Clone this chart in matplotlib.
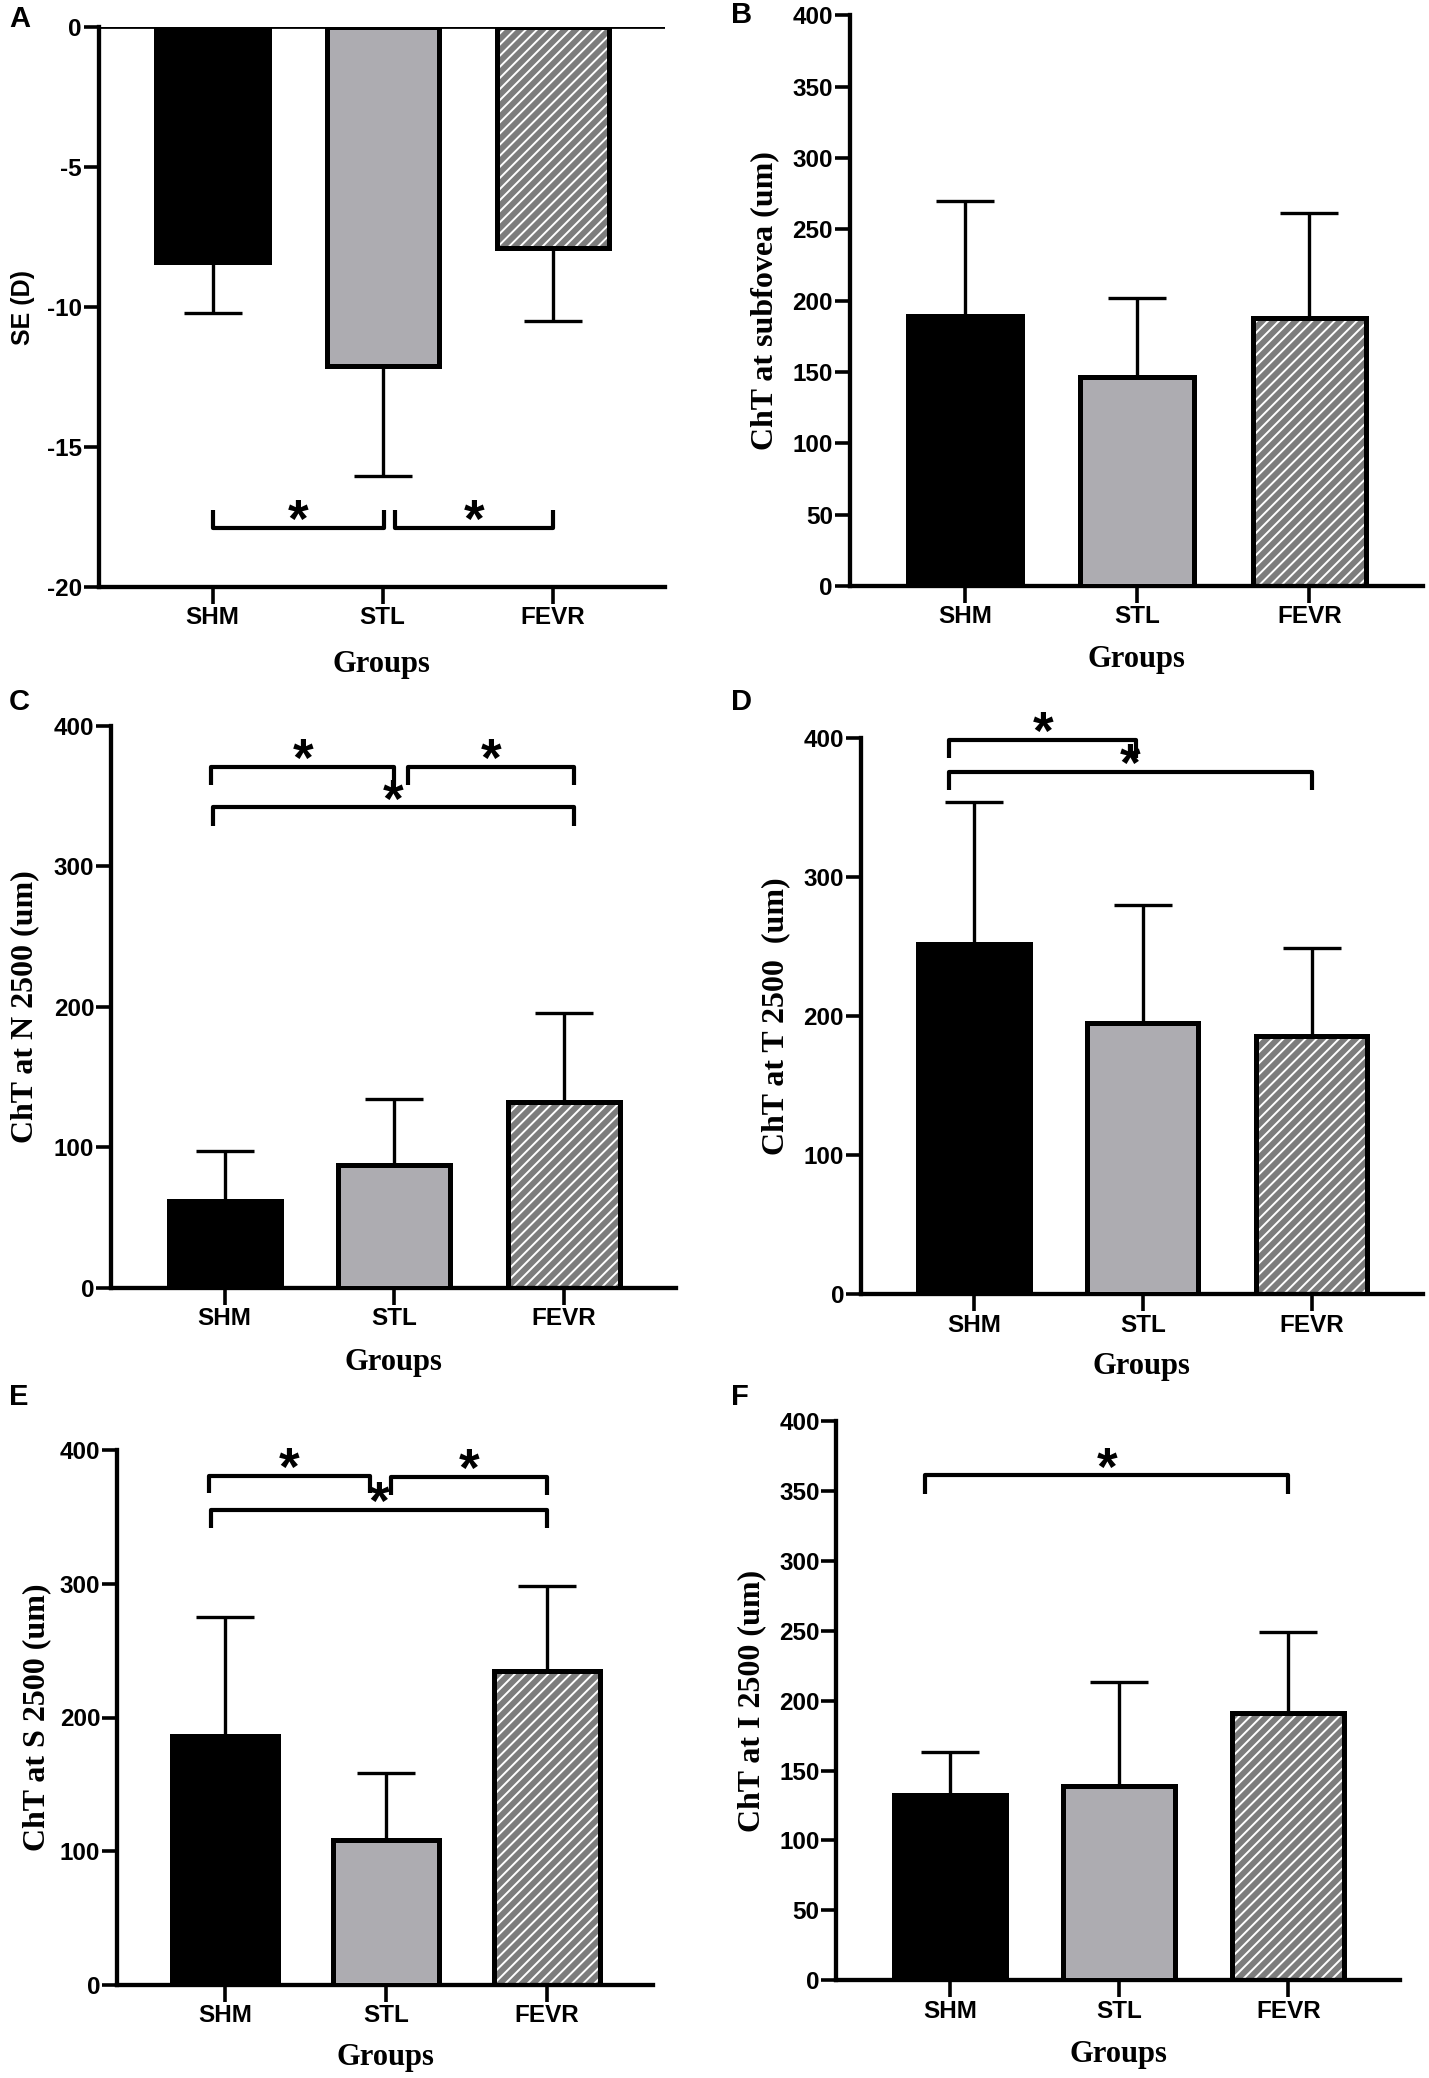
import numpy as np
import matplotlib
matplotlib.use('Agg')
import matplotlib.pyplot as plt

# - - - - data - - - -
groups = ['SHM', 'STL', 'FEVR']

se_mean = [-8.4, -12.1, -7.9]
se_sd = [1.8, 3.95, 2.6]

sub_mean = [189.5, 146.7, 188.0]
sub_sd = [80.1, 55.5, 73.5]

n_mean = [61.7, 87.6, 132.1]
n_sd = [36.0, 47.0, 63.5]

t_mean = [252.3, 195.4, 185.9]
t_sd = [101.9, 85.1, 63.0]

s_mean = [186.4, 108.2, 234.6]
s_sd = [89.1, 49.9, 63.9]

i_mean = [132.6, 139.0, 190.8]
i_sd = [30.5, 74.0, 58.2]

# significance brackets: (start group, end group, bracket height)
sig_a = [(0.0, 1.01, -17.9), (1.07, 2.0, -17.9)]
sig_c = [(-0.08, 1.0, 371), (1.08, 2.06, 371), (-0.07, 2.06, 342)]
sig_d = [(-0.145, 0.96, 399), (-0.145, 2.0, 376)]
sig_e = [(-0.10, 0.90, 381), (1.03, 2.0, 380), (-0.085, 2.0, 355)]
sig_f = [(-0.145, 2.0, 361)]

# - - - - styling - - - -
W, H = 1429, 2078
DPI = 100
SANS = ['Liberation Sans', 'Arial', 'DejaVu Sans']
SERIF = ['Liberation Serif', 'Times New Roman', 'DejaVu Serif']
plt.rcParams['hatch.linewidth'] = 1.4

fig = plt.figure(figsize=(W / DPI, H / DPI), dpi=DPI)

# panel boxes in pixels: left, right, top, bottom
boxes = {
    'A': (98.6, 665, 27.3, 586.8),
    'B': (849.5, 1423, 15.4, 586),
    'C': (111, 676, 726, 1287.8),
    'D': (860.7, 1423, 738.4, 1294.4),
    'E': (116.9, 653, 1450.3, 1984.7),
    'F': (836.4, 1400, 1420.9, 1980.3),
}
letter_pos = {'A': (9, 5), 'B': (731, 1), 'C': (9, 688), 'D': (731, 688),
              'E': (9, 1383), 'F': (731, 1383)}
# label offsets from the axis lines, in pixels
ylab_off = {'A': -63.5, 'B': -70, 'C': -72, 'D': -70, 'E': -66, 'F': -70.5}
xlab_off = {'A': 63, 'B': 59, 'C': 60, 'D': 58, 'E': 58, 'F': 60}

bar_colors = ['black', '#adacb1', '#7d7d7d']


def make_ax(key):
    l, r, t, b = boxes[key]
    ax = fig.add_axes([l / W, 1 - b / H, (r - l) / W, (b - t) / H])
    return ax


def draw_panel(key, means, sds, ylabel, yticks, sig, negative=False,
               ylabel_sans=False):
    ax = make_ax(key)
    l, r, t, b = boxes[key]
    x = np.arange(len(groups))
    width = 0.66

    # error bars (one-sided, away from zero)
    for i in range(len(groups)):
        err = [[sds[i]], [0]] if negative else [[0], [sds[i]]]
        ax.errorbar(x[i], means[i], yerr=err, fmt='none', ecolor='black',
                    elinewidth=2.4, capsize=21, capthick=2.4, zorder=1)

    # bars: solid, solid, hatched
    for i in range(len(groups)):
        if i == 2:
            ax.bar(x[i], means[i], width, color=bar_colors[i],
                   edgecolor='white', hatch='///', linewidth=0, zorder=2)
            ax.bar(x[i], means[i], width, facecolor='none',
                   edgecolor='black', linewidth=3.6, zorder=3)
        else:
            ax.bar(x[i], means[i], width, color=bar_colors[i],
                   edgecolor='black', linewidth=3.6, zorder=3)

    lo, hi = min(yticks), max(yticks)
    rng = hi - lo
    ax.set_ylim(lo, hi)
    ax.set_xlim(-0.67, 2.66)
    ax.set_yticks(yticks)
    ax.set_yticklabels([str(v) for v in yticks])
    ax.set_xticks(x)
    ax.set_xticklabels(groups)

    for s in ['top', 'right']:
        ax.spines[s].set_visible(False)
    for s in ['left', 'bottom']:
        ax.spines[s].set_linewidth(3.1)
    if negative:
        ax.axhline(0, color='black', linewidth=2, zorder=4)

    ax.tick_params(axis='y', length=11, width=2.6, pad=1, labelsize=17.5)
    ax.tick_params(axis='x', length=12, width=2.6, pad=2, labelsize=17.5)
    for lab in ax.get_xticklabels() + ax.get_yticklabels():
        lab.set_fontfamily(SANS)
        lab.set_fontweight('bold')

    if ylabel_sans:
        ax.set_ylabel(ylabel, fontsize=18, fontweight='bold', family=SANS)
    else:
        ax.set_ylabel(ylabel, fontsize=23, fontweight='bold', family=SERIF)
    ax.yaxis.set_label_coords(ylab_off[key] / (r - l), 0.5)
    ax.set_xlabel('Groups', fontsize=22, fontweight='bold', family=SERIF)
    ax.xaxis.set_label_coords(0.5, -xlab_off[key] / (b - t))

    # significance brackets with stars
    leg = 0.033 * rng
    for x1, x2, yb in sig:
        if negative:
            ys = [yb + leg, yb, yb, yb + leg]
        else:
            ys = [yb - leg, yb, yb, yb - leg]
        ax.plot([x1, x1, x2, x2], ys, color='black', linewidth=3,
                solid_capstyle='butt', clip_on=False, zorder=5)
        ax.annotate('*', xy=((x1 + x2) / 2, yb), xytext=(0, -6.5),
                    textcoords='offset points', ha='center', va='baseline',
                    fontsize=38, fontweight='bold', family=SANS,
                    annotation_clip=False, zorder=6)

    lx, ly = letter_pos[key]
    fig.text(lx / W, 1 - ly / H, key, ha='left', va='top', fontsize=21,
             fontweight='bold', family=SANS)
    return ax


draw_panel('A', se_mean, se_sd, 'SE (D)', [0, -5, -10, -15, -20], sig_a,
           negative=True, ylabel_sans=True)
draw_panel('B', sub_mean, sub_sd, 'ChT at subfovea (um)',
           list(range(0, 401, 50)), [])
draw_panel('C', n_mean, n_sd, 'ChT at N 2500 (um)',
           list(range(0, 401, 100)), sig_c)
draw_panel('D', t_mean, t_sd, 'ChT at T 2500  (um)',
           list(range(0, 401, 100)), sig_d)
draw_panel('E', s_mean, s_sd, 'ChT at S 2500 (um)',
           list(range(0, 401, 100)), sig_e)
draw_panel('F', i_mean, i_sd, 'ChT at I 2500 (um)',
           list(range(0, 401, 50)), sig_f)

fig.savefig('out.png', dpi=DPI)
